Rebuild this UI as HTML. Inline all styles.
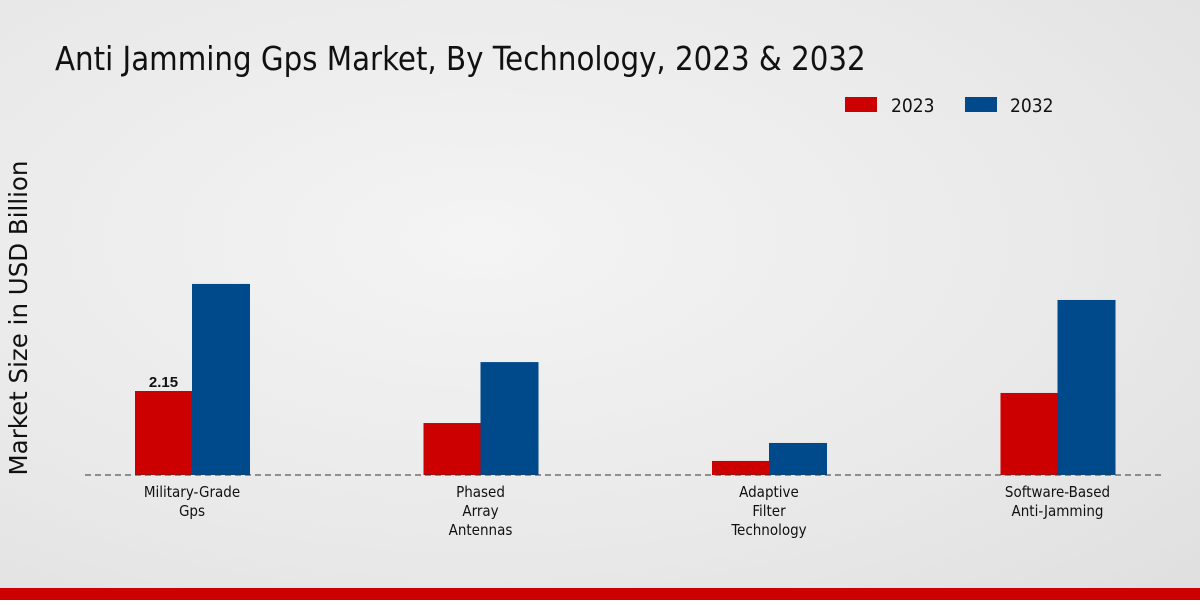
<!DOCTYPE html>
<html><head><meta charset="utf-8"><style>
body{margin:0;width:1200px;height:600px;overflow:hidden;font-family:"Liberation Sans","DejaVu Sans",sans-serif;}
#wrap{position:relative;width:1200px;height:600px;background:radial-gradient(ellipse at 40% 40%,#f4f4f4 0%,#e9e9e9 60%,#dfdfdf 100%);}
</style></head><body>
<div id="wrap">
<svg id="chart" width="1200" height="600">
<text x="55" y="70" font-size="32.6" fill="#111" font-family="DejaVu Sans Condensed,Liberation Sans Narrow,Liberation Sans,sans-serif">Anti Jamming Gps Market, By Technology, 2023 &amp; 2032</text>
<g>
<rect x="845" y="97" width="32" height="15" fill="#cc0000"/>
<text x="891" y="112" font-size="19" fill="#111" font-family="DejaVu Sans Condensed,sans-serif">2023</text>
<rect x="965" y="97" width="32" height="15" fill="#004a8c"/>
<text x="1010" y="112" font-size="19" fill="#111" font-family="DejaVu Sans Condensed,sans-serif">2032</text>
</g>
<text transform="translate(27,318) rotate(-90)" text-anchor="middle" font-size="24.5" fill="#111" font-family="DejaVu Sans,sans-serif">Market Size in USD Billion</text>
<g id="bars"></g>
<line x1="85" y1="475" x2="1165" y2="475" stroke="#333" stroke-dasharray="6,4" stroke-width="1"/>
<g id="labels"></g>
<rect x="0" y="588" width="1200" height="12" fill="#cc0000"/>
</svg>
</div>
<script>
const categories=[["Military-Grade","Gps"],["Phased","Array","Antennas"],["Adaptive","Filter","Technology"],["Software-Based","Anti-Jamming"]];
const values2023=[2.15,1.33,0.36,2.10];
const values2032=[4.89,2.89,0.82,4.48];
const shownLabels=["2.15",null,null,null];
const NS="http://www.w3.org/2000/svg";
const baseY=475,pxPerUnit=39.07,firstCenter=192,step=288.5,barW=57;
function yScale(v){return baseY-v*pxPerUnit;}
function xCenter(i){return firstCenter+i*step;}
const bars=document.getElementById('bars'),labels=document.getElementById('labels');
function mk(tag,attrs){const e=document.createElementNS(NS,tag);for(const k in attrs)e.setAttribute(k,attrs[k]);return e;}
categories.forEach((c,i)=>{
  const cx=xCenter(i);
  const r=mk('rect',{x:cx-barW,y:yScale(values2023[i]),width:barW,height:baseY-yScale(values2023[i]),fill:'#cc0000'});
  
  
  bars.appendChild(r);
  const b=mk('rect',{x:cx,y:yScale(values2032[i]),width:barW+1,height:baseY-yScale(values2032[i]),fill:'#004a8c'});
  
  
  bars.appendChild(b);
  if(shownLabels[i]){
    const t=mk('text',{x:cx-barW/2,y:yScale(values2023[i])-4,'text-anchor':'middle','font-size':'15','font-weight':'bold',fill:'#111'});
    t.textContent=shownLabels[i];
    
    
    bars.appendChild(t);
  }
  c.forEach((line,j)=>{
    const t=mk('text',{x:cx,y:497+j*19,'text-anchor':'middle','font-size':'15',fill:'#111','font-family':'DejaVu Sans Condensed,Liberation Sans Narrow,sans-serif'});
    t.textContent=line;
    
    
    labels.appendChild(t);
  });
});
</script>
</body></html>
